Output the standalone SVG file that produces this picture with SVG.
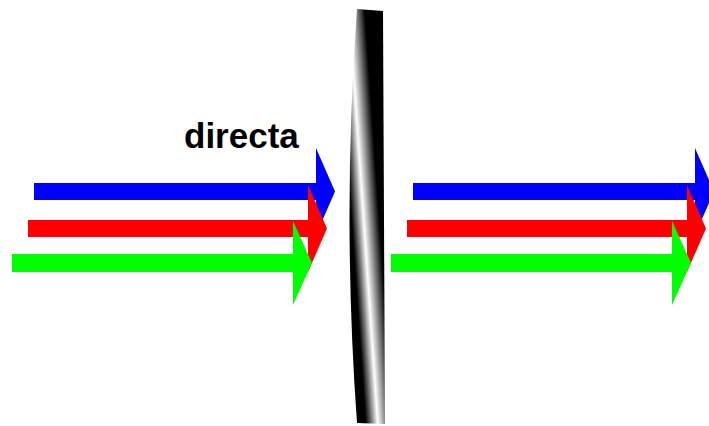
<svg xmlns="http://www.w3.org/2000/svg" xmlns:xlink="http://www.w3.org/1999/xlink" width="709" height="426" viewBox="0 0 709 426">
  <style>
    .blue { fill: #0000ff; }
    .red { fill: #ff0000; }
    .green { fill: #00ff00; }
    .label { font-family: "Liberation Sans", Arial, sans-serif; font-weight: bold; font-size: 35px; fill: #000; }
  </style>
  <defs>
    <linearGradient id="lensGrad" gradientUnits="userSpaceOnUse" x1="340" y1="210" x2="392" y2="206.4">
      <stop offset="0" stop-color="#000"/>
      <stop offset="0.21" stop-color="#000"/>
      <stop offset="0.32" stop-color="#777"/>
      <stop offset="0.44" stop-color="#fff"/>
      <stop offset="0.58" stop-color="#888"/>
      <stop offset="0.74" stop-color="#000"/>
      <stop offset="1" stop-color="#000"/>
    </linearGradient>
    <polygon id="arrowBlue" points="34,183 316,183 316,148 335,191.5 316,235 316,200 34,200"/>
    <polygon id="arrowRed" points="28,220 308,220 308,185 327,228.5 308,272 308,237 28,237"/>
    <polygon id="arrowGreen" points="12,254 293,254 293,221 312,263 293,305 293,272 12,272"/>
  </defs>

  <rect width="709" height="426" fill="#fff"/>

  <g id="incoming">
    <use xlink:href="#arrowBlue" class="blue"/>
    <use xlink:href="#arrowRed" class="red"/>
    <use xlink:href="#arrowGreen" class="green"/>
  </g>

  <g id="outgoing" transform="translate(379,0)">
    <use xlink:href="#arrowBlue" class="blue"/>
    <use xlink:href="#arrowRed" class="red"/>
    <use xlink:href="#arrowGreen" class="green"/>
  </g>

  <g id="lens">
    <path d="M357,9 L383,11 L385,424 L357,423 Q342,216 357,9 Z" fill="url(#lensGrad)"/>
  </g>

  <g id="label">
    <text class="label" x="184" y="148">directa</text>
  </g>
</svg>
